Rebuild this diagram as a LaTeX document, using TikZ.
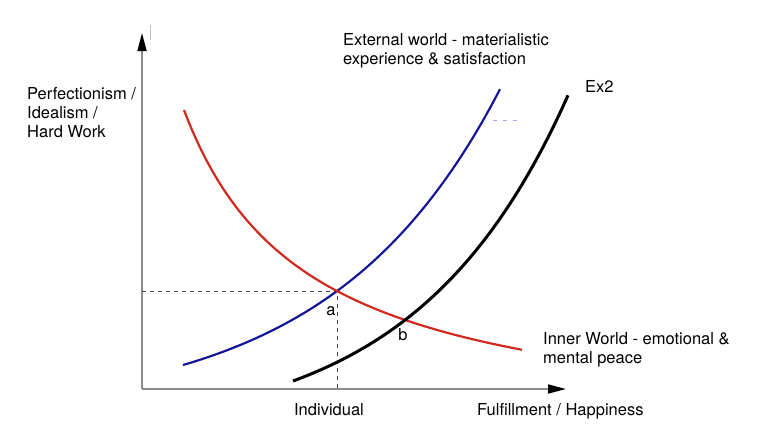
\documentclass[tikz,border=0pt]{standalone}
\usepackage{fontspec}
\setmainfont{TeX Gyre Heros}
\usetikzlibrary{arrows.meta}
\definecolor{DarkBlue}{RGB}{22,22,150}
\definecolor{CurveRed}{RGB}{208,42,30}
\definecolor{AxisGray}{RGB}{140,140,140}

\begin{document}
\begin{tikzpicture}[x=1bp,y=-1bp,
    every node/.style={font=\fontsize{16.5bp}{19bp}\selectfont, inner sep=0pt},
    axis/.style={AxisGray, line width=1.5bp, -{Triangle[length=18bp,width=9bp,color=black]}},
    guide/.style={black!75, line width=1bp, dash pattern=on 4bp off 4bp},
    curve/.style={line width=2.2bp}]
        \useasboundingbox (0,0) rectangle (759,431);

        \coordinate (O) at (142,389);
        \coordinate (ytop) at (142,33);
        \coordinate (xend) at (566,389);
        \coordinate (A) at (337,291);

        \draw[axis] (O) -- (ytop);
        \draw[axis] (O) -- (xend);

        \draw[guide] (O |- A) -- (A) -- (A |- O);

        \draw[curve,DarkBlue] plot[domain=183:500,samples=80] (\x, {414.3 - 49.3*exp(0.00595*(\x-183))});
        \draw[curve,CurveRed] plot[domain=184:522,samples=80] (\x, {437.7 - 406.29/((\x-60)/100)});
        \draw[curve,line width=3bp] plot[domain=293:568,samples=80] (\x, {437 - 56*exp(0.00658*(\x-293))});

        % faint marks
        \draw[black!25,line width=1bp] (150,25) -- (150,40);
        \draw[blue!35,line width=1bp,dash pattern=on 4bp off 6bp] (493,120) -- (522,120);

        % base of a multi-line node is its last line
        \node[anchor=base west,align=left] (ylabel) at (27,137) {Perfectionism /\\Idealism /\\Hard Work};
        \node[anchor=base west,align=left] (outer) at (343,64) {External world - materialistic\\experience \& satisfaction};
        \node[anchor=base west] (ex2) at (585,92) {Ex2};
        \node[anchor=base west,align=left] (inner) at (543,363) {Inner World - emotional \&\\mental peace};
        \node[anchor=base] (indiv) at (329,415) {Individual};
        \node[anchor=base west] (xlabel) at (477,415) {Fulfillment / Happiness};
        \node[anchor=base] (la) at (331,315) {a};
        \node[anchor=base] (lb) at (403,340) {b};
\end{tikzpicture}
\end{document}
